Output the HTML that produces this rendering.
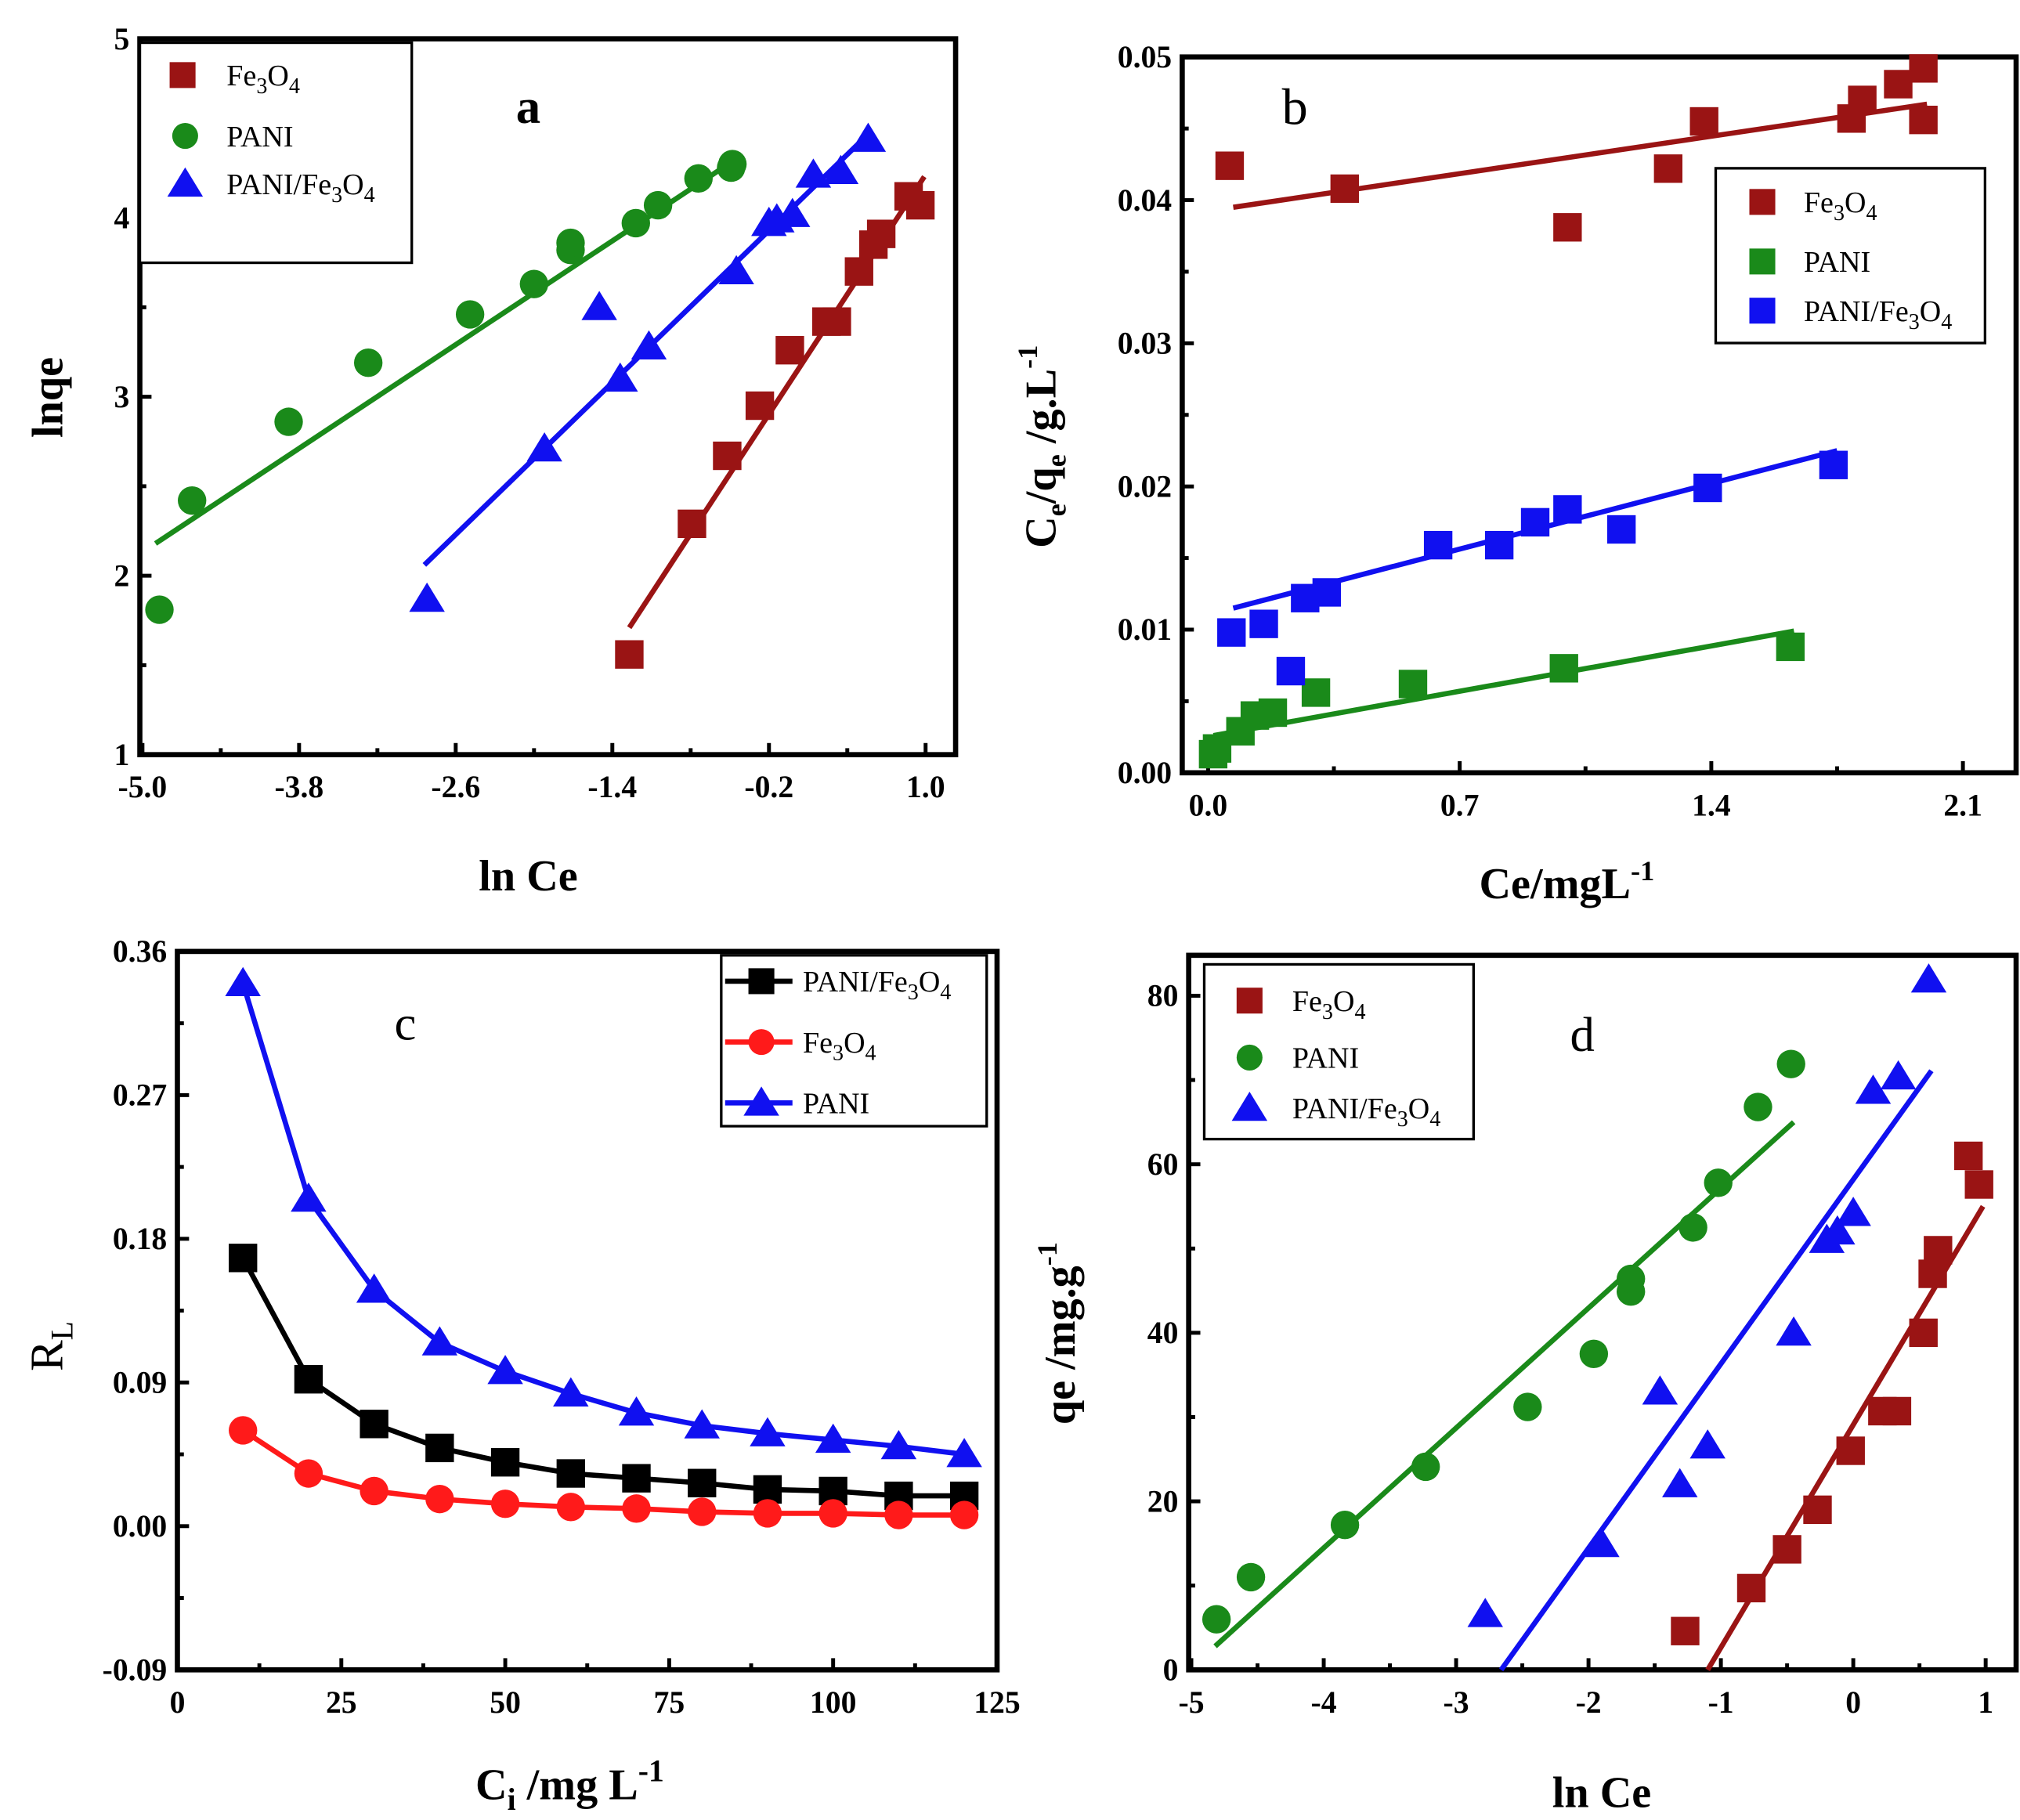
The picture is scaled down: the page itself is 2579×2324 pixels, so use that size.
<!DOCTYPE html>
<html><head><meta charset="utf-8"><style>
html,body{margin:0;padding:0;background:#fff}
svg{display:block}
text{font-family:"Liberation Serif",serif}
</style></head><body>
<svg id="fig" width="2579" height="2324" viewBox="0 0 1560 1406" preserveAspectRatio="none" xmlns="http://www.w3.org/2000/svg"></svg>
<script>
// ---- Panel a data (ln Ce vs ln qe)
const aFeX=[-1.27,-0.79,-0.52,-0.27,-0.04,0.24,0.32,0.49,0.60,0.66,0.87,0.96];
const aFeY=[1.56,2.29,2.67,2.95,3.26,3.42,3.42,3.70,3.85,3.91,4.12,4.07];
const aFeLine=[[-1.27,1.71],[0.99,4.23]];
const aPaX=[-4.87,-4.62,-3.88,-3.27,-2.49,-2.0,-1.72,-1.72,-1.22,-1.05,-0.74,-0.49,-0.48];
const aPaY=[1.81,2.42,2.86,3.19,3.46,3.63,3.82,3.86,3.97,4.07,4.22,4.28,4.30];
const aPaLine=[[-4.9,2.18],[-0.47,4.32]];
const aPfX=[-2.82,-1.5,-1.92,-1.34,-1.12,-0.45,-0.2,-0.14,-0.02,0.14,0.35,0.56];
const aPfY=[1.87,3.50,2.71,3.10,3.28,3.70,3.97,3.99,4.02,4.24,4.26,4.44];
const aPfLine=[[-2.84,2.06],[0.55,4.46]];
const aXTicks=[-5.0,-3.8,-2.6,-1.4,-0.2,1.0];
const aXTickLabels=["-5.0","-3.8","-2.6","-1.4","-0.2","1.0"];
const aYTicks=[1,2,3,4,5];
// ---- Panel b data
const bFeX=[0.06,0.38,1.0,1.28,1.38,1.79,1.82,1.92,1.99,1.99];
const bFeY=[0.0424,0.0408,0.0381,0.0422,0.0455,0.0457,0.047,0.0481,0.0492,0.0456];
const bFeLine=[[0.07,0.0395],[2.0,0.0467]];
const bPaX=[0.014,0.025,0.09,0.13,0.18,0.30,0.57,0.99,1.62];
const bPaY=[0.0013,0.0017,0.0029,0.0040,0.0042,0.0056,0.0062,0.0073,0.0088];
const bPaLine=[[0.015,0.0026],[1.63,0.0099]];
const bPfX=[0.065,0.155,0.23,0.27,0.33,0.64,0.81,0.91,1.0,1.15,1.39,1.74];
const bPfY=[0.0098,0.0104,0.0071,0.0122,0.0126,0.0159,0.0159,0.0175,0.0184,0.0170,0.0199,0.0215];
const bPfLine=[[0.07,0.0115],[1.75,0.0225]];
const bXTicks=[0.0,0.7,1.4,2.1];
const bXTickLabels=["0.0","0.7","1.4","2.1"];
const bYTicks=[0,0.01,0.02,0.03,0.04,0.05];
const bYTickLabels=["0.00","0.01","0.02","0.03","0.04","0.05"];
// ---- Panel c data
const cCi=[10,20,30,40,50,60,70,80,90,100,110,120];
const cPani=[0.340,0.205,0.148,0.115,0.097,0.083,0.071,0.063,0.058,0.054,0.050,0.045];
const cPaniFe=[0.168,0.092,0.064,0.049,0.040,0.033,0.030,0.027,0.023,0.022,0.019,0.019];
const cFe=[0.060,0.033,0.022,0.017,0.014,0.012,0.011,0.009,0.008,0.008,0.007,0.007];
const cXTicks=[0,25,50,75,100,125];
const cYTicks=[-0.09,0,0.09,0.18,0.27,0.36];
const cYTickLabels=["-0.09","0.00","0.09","0.18","0.27","0.36"];
// ---- Panel d data
const dFeX=[-1.27,-0.77,-0.5,-0.27,-0.02,0.22,0.33,0.53,0.6,0.64,0.87,0.95];
const dFeY=[4.6,9.7,14.3,19,26,30.7,30.7,40,47,49.8,61,57.6];
const dFeLine=[[-1.1,0],[0.98,55]];
const dPaX=[-4.81,-4.55,-3.84,-3.23,-2.46,-1.96,-1.68,-1.68,-1.21,-1.02,-0.72,-0.47];
const dPaY=[6,11,17.2,24.1,31.2,37.5,44.9,46.4,52.5,57.8,66.8,71.9];
const dPaLine=[[-4.82,2.8],[-0.45,65]];
const dPfX=[-2.78,-1.9,-1.31,-1.1,-1.46,-0.45,-0.2,-0.12,0,0.15,0.34,0.57];
const dPfY=[6.6,14.9,22,26.6,33,40,51,52,54.2,68.7,70.4,81.9];
const dPfLine=[[-2.66,0],[0.59,71.1]];
const dXTicks=[-5,-4,-3,-2,-1,0,1];
const dYTicks=[0,20,40,60,80];

const NS="http://www.w3.org/2000/svg";
const svg=document.getElementById('fig');
function el(tag,attrs,parent){const e=document.createElementNS(NS,tag);for(const k in attrs)e.setAttribute(k,attrs[k]);(parent||svg).appendChild(e);return e;}
const RED="#9a1414",GRN="#1a8a1a",BLU="#1010f0",RED2="#ff1a1a";

function makeAxes(name,L,R,T,B,x0,x1,y0,y1){
  const g=el('g',{});
  
  
  const sx=v=>L+(v-x0)/(x1-x0)*(R-L);
  const sy=v=>B-(v-y0)/(y1-y0)*(B-T);
  const fr=el('rect',{x:L,y:T,width:R-L,height:B-T,fill:'none',stroke:'#000','stroke-width':4},g);
  
  
  return {g,sx,sy,L,R,T,B};
}
function xTicks(ax,ticks,labels,minorStep,nameP){
  ticks.forEach((t,i)=>{
    const x=ax.sx(t);
    el('line',{x1:x,x2:x,y1:ax.B,y2:ax.B-9,stroke:'#000','stroke-width':3},ax.g);
    const tx=el('text',{x:x,y:ax.B+33,'font-size':24,'font-weight':'bold','text-anchor':'middle'},ax.g);
    tx.textContent=labels[i];
    
    
    if(i<ticks.length-1){const m=ax.sx(t+minorStep);el('line',{x1:m,x2:m,y1:ax.B,y2:ax.B-5,stroke:'#000','stroke-width':3},ax.g);}
  });
}
function yTicks(ax,ticks,labels,minorStep,nameP){
  ticks.forEach((t,i)=>{
    const y=ax.sy(t);
    el('line',{x1:ax.L,x2:ax.L+9,y1:y,y2:y,stroke:'#000','stroke-width':3},ax.g);
    const tx=el('text',{x:ax.L-8,y:y+8,'font-size':24,'font-weight':'bold','text-anchor':'end'},ax.g);
    tx.textContent=labels[i];
    
    
    if(i<ticks.length-1){const m=ax.sy(t+minorStep);el('line',{x1:ax.L,x2:ax.L+5,y1:m,y2:m,stroke:'#000','stroke-width':3},ax.g);}
  });
}
function marker(g,shape,x,y,color,sz){
  let m;
  if(shape==='sq') m=el('rect',{x:x-sz,y:y-sz,width:2*sz,height:2*sz,fill:color},g);
  else if(shape==='ci') m=el('circle',{cx:x,cy:y,r:sz,fill:color},g);
  else m=el('polygon',{points:`${x},${y-sz*1.15} ${x-sz*1.25},${y+sz*0.9} ${x+sz*1.25},${y+sz*0.9}`,fill:color},g);
  return m;
}
function scatter(ax,xs,ys,shape,color,name){
  xs.forEach((v,i)=>{
    const m=marker(ax.g,shape,ax.sx(v),ax.sy(ys[i]),color,11);
    
    
  });
}
function fit(ax,pts,color,name){
  const l=el('line',{x1:ax.sx(pts[0][0]),y1:ax.sy(pts[0][1]),x2:ax.sx(pts[1][0]),y2:ax.sy(pts[1][1]),stroke:color,'stroke-width':4},ax.g);
  
  
}
function txt(x,y,s,size,bold,anchor,rot,name,html){
  const t=el('text',{x:x,y:y,'font-size':size,'font-weight':bold?'bold':'normal','text-anchor':anchor||'middle'});
  if(rot) t.setAttribute('transform',`rotate(-90 ${x} ${y})`);
  if(html) t.innerHTML=html; else t.textContent=s;
  
  
  return t;
}
function legend(name,x,y,w,h,entries,withLine){
  const g=el('g',{});
  
  
  el('rect',{x:x,y:y,width:w,height:h,fill:'#fff',stroke:'#000','stroke-width':2},g);
  entries.forEach(e=>{
    if(withLine) el('line',{x1:x+3,x2:x+55,y1:e.y,y2:e.y,stroke:e.c,'stroke-width':4},g);
    marker(g,e.s,e.mx,e.y,e.c,e.s==='tr'?11:10);
    const t=el('text',{x:e.tx,y:e.y+8,'font-size':23},g);
    t.innerHTML=e.label;
    
    
  });
}
const FE='Fe<tspan dy="6" font-size="17">3</tspan><tspan dy="-6">O</tspan><tspan dy="6" font-size="17">4</tspan>';
const PF='PANI/'+FE;

// Panel a
const A=makeAxes('panel-a',108,738,30,583,-5.02,1.23,1,5);
xTicks(A,aXTicks,aXTickLabels,0.6,'a');
yTicks(A,aYTicks,aYTicks.map(String),0.5,'a');
fit(A,aFeLine,RED,'a-fe3o4');fit(A,aPaLine,GRN,'a-pani');fit(A,aPfLine,BLU,'a-pani-fe3o4');
scatter(A,aFeX,aFeY,'sq',RED,'a-fe3o4');scatter(A,aPaX,aPaY,'ci',GRN,'a-pani');scatter(A,aPfX,aPfY,'tr',BLU,'a-pani-fe3o4');
legend('a-legend',108,33,210,170,[{s:'sq',c:RED,y:58,mx:141,tx:175,label:FE},{s:'ci',c:GRN,y:105,mx:143,tx:175,label:'PANI'},{s:'tr',c:BLU,y:142,mx:143,tx:175,label:PF}],false);
txt(408,95,'a',38,true,'middle',false,'panel-a-label');
txt(48,307,'lnqe',34,true,'middle',true,'a-y-axis-title');
txt(408,688,'ln Ce',34,true,'middle',false,'a-x-axis-title');

// Panel b
const B=makeAxes('panel-b',913,1557,44,597,-0.072,2.248,0,0.05);
xTicks(B,bXTicks,bXTickLabels,0.35,'b');
yTicks(B,bYTicks,bYTickLabels,0.005,'b');
fit(B,bFeLine,RED,'b-fe3o4');fit(B,bPaLine,GRN,'b-pani');fit(B,bPfLine,BLU,'b-pani-fe3o4');
scatter(B,bFeX,bFeY,'sq',RED,'b-fe3o4');scatter(B,bPaX,bPaY,'sq',GRN,'b-pani');scatter(B,bPfX,bPfY,'sq',BLU,'b-pani-fe3o4');
legend('b-legend',1325,130,208,135,[{s:'sq',c:RED,y:156,mx:1361,tx:1393,label:FE},{s:'sq',c:GRN,y:202,mx:1361,tx:1393,label:'PANI'},{s:'sq',c:BLU,y:240,mx:1361,tx:1393,label:PF}],false);
txt(1000,96,'b',40,false,'middle',false,'panel-b-label');
txt(815,345,'',34,true,'middle',true,'b-y-axis-title','C<tspan dy="8" font-size="22">e</tspan><tspan dy="-8">/q</tspan><tspan dy="8" font-size="22">e</tspan><tspan dy="-8"> /g.L</tspan><tspan dy="-14" font-size="22">-1</tspan>');
txt(1210,694,'',34,true,'middle',false,'b-x-axis-title','Ce/mgL<tspan dy="-14" font-size="22">-1</tspan>');

// Panel c
const C=makeAxes('panel-c',137,770,735,1290,0,125,-0.09,0.36);
xTicks(C,cXTicks,cXTicks.map(String),12.5,'c');
yTicks(C,cYTicks,cYTickLabels,0.045,'c');
function seriesLine(ax,xs,ys,shape,color,name){
  const p=el('polyline',{points:xs.map((v,i)=>ax.sx(v)+','+ax.sy(ys[i])).join(' '),fill:'none',stroke:color,'stroke-width':4},ax.g);
  
  
  scatter(ax,xs,ys,shape,color,name);
}
seriesLine(C,cCi,cPani,'tr',BLU,'c-pani');
seriesLine(C,cCi,cPaniFe,'sq','#000','c-pani-fe3o4');
seriesLine(C,cCi,cFe,'ci',RED2,'c-fe3o4');
legend('c-legend',557,738,205,132,[{s:'sq',c:'#000',y:758,mx:588,tx:620,label:PF},{s:'ci',c:RED2,y:805,mx:588,tx:620,label:FE},{s:'tr',c:BLU,y:852,mx:588,tx:620,label:'PANI'}],true);
txt(313,803,'c',38,false,'middle',false,'panel-c-label');
txt(48,1040,'',36,false,'middle',true,'c-y-axis-title','R<tspan dy="8" font-size="24">L</tspan>');
txt(440,1390,'',34,true,'middle',false,'c-x-axis-title','C<tspan dy="8" font-size="24">i</tspan><tspan dy="-8"> /mg L</tspan><tspan dy="-14" font-size="24">-1</tspan>');

// Panel d
const D=makeAxes('panel-d',918,1557,738,1290,-5.02,1.23,0,84.8);
xTicks(D,dXTicks,dXTicks.map(String),0.5,'d');
yTicks(D,dYTicks,dYTicks.map(String),10,'d');
fit(D,dFeLine,RED,'d-fe3o4');fit(D,dPaLine,GRN,'d-pani');fit(D,dPfLine,BLU,'d-pani-fe3o4');
scatter(D,dFeX,dFeY,'sq',RED,'d-fe3o4');scatter(D,dPaX,dPaY,'ci',GRN,'d-pani');scatter(D,dPfX,dPfY,'tr',BLU,'d-pani-fe3o4');
legend('d-legend',930,745,208,135,[{s:'sq',c:RED,y:773,mx:965,tx:998,label:FE},{s:'ci',c:GRN,y:817,mx:965,tx:998,label:'PANI'},{s:'tr',c:BLU,y:856,mx:965,tx:998,label:PF}],false);
txt(1222,812,'d',38,false,'middle',false,'panel-d-label');
txt(830,1030,'',34,true,'middle',true,'d-y-axis-title','qe /mg.g<tspan dy="-14" font-size="22">-1</tspan>');
txt(1237,1396,'ln Ce',34,true,'middle',false,'d-x-axis-title');
</script>
</body></html>
